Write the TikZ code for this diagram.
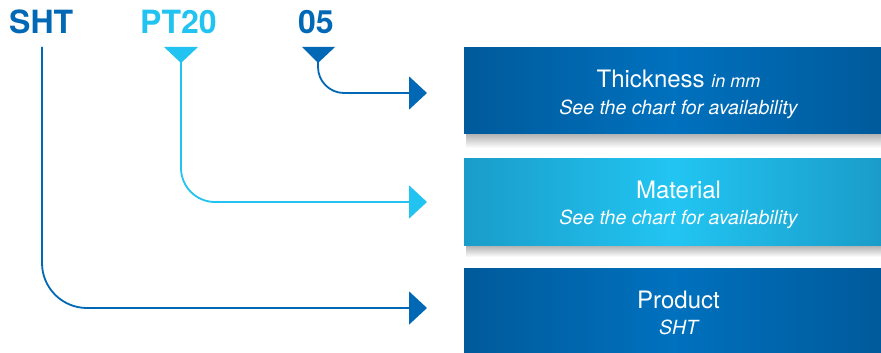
\documentclass[tikz,border=0pt]{standalone}
\usepackage{fontspec}
\setmainfont{TeX Gyre Heros}
\usetikzlibrary{arrows.meta,calc}
\definecolor{dblue}{HTML}{0068B4}
\definecolor{lblue}{HTML}{22C3F0}
\definecolor{boxedge}{HTML}{005A9B}
\definecolor{boxmid}{HTML}{0071BE}
\definecolor{lboxedge}{HTML}{1A9CC9}
\definecolor{lboxmid}{HTML}{22C5F2}
\begin{document}
\begin{tikzpicture}[x=1pt,y=-1pt,
  code/.style={font=\fontsize{32}{32}\selectfont\bfseries, inner sep=0pt, anchor=base west},
  link/.style={line width=1.8pt, -{Triangle[length=18pt,width=33pt]}},
  infobox/.style={draw=none, minimum width=417pt, minimum height=86pt, inner sep=0pt, anchor=north west},
  darkbox/.style={infobox, left color=boxedge, right color=boxedge, middle color=boxmid},
  lightbox/.style={infobox, left color=lboxedge, right color=lboxedge, middle color=lboxmid},
  title/.style={font=\fontsize{24}{24}\selectfont, text=white, inner sep=0pt, anchor=base},
  sub/.style={font=\fontsize{19.5}{19.5}\selectfont\itshape, text=white, inner sep=0pt, anchor=base}
]
\useasboundingbox (0,0) rectangle (881,353);

% codes
\node[code, text=dblue] (sht) at (9,34) {SHT};
\node[code, text=lblue] (pt) at (140,34) {PT20};
\node[code, text=dblue] (nr) at (298,34) {05};

% shadows
\shade[top color=black!32, bottom color=white] (466,133) rectangle (881,148);
\shade[top color=black!32, bottom color=white] (466,245) rectangle (881,257);

% boxes
\node[darkbox] (thick) at (464,47) {};
\node[lightbox, minimum height=87pt] (mat) at (464,158) {};
\node[darkbox, minimum height=85pt] (prod) at (464,268) {};

% box texts
\node[title] (thickT) at (678.5,88) {Thickness \fontsize{18}{18}\selectfont\itshape in mm};
\node[sub] (thickS) at (678.5,114) {See the chart for availability};
\node[title] (matT) at (678.5,198) {Material};
\node[sub] (matS) at (678.5,224) {See the chart for availability};
\node[title] (prodT) at (678.5,308) {Product};
\node[sub] (prodS) at (678.5,334) {SHT};

% markers
\fill[lblue] (164,47) -- (198,47) -- (181,63) -- cycle;
\fill[dblue] (302,47) -- (335,47) -- (318,63) -- cycle;
\coordinate (mpt) at (181,62);
\coordinate (mnr) at (318,62);
\coordinate (msht) at (42,47);
\coordinate (anr) at (427,93);
\coordinate (apt) at (427,202);
\coordinate (asht) at (427,308);

% connectors
\draw[link, dblue, rounded corners=26pt] (mnr) |- (anr);
\draw[link, lblue, rounded corners=34pt] (mpt) |- (apt);
\draw[link, dblue, rounded corners=45pt] (msht) |- (asht);
\end{tikzpicture}
\end{document}
